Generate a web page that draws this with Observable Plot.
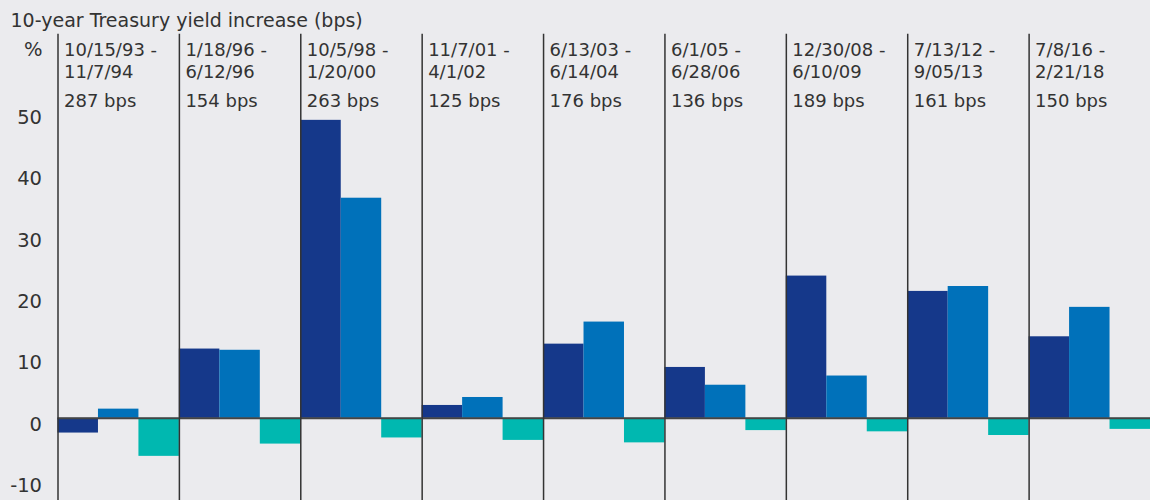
<!DOCTYPE html>
<html>
<head>
<meta charset="utf-8">
<script src="https://cdn.jsdelivr.net/npm/d3@7"></script>
<script src="https://cdn.jsdelivr.net/npm/@observablehq/plot@0.6"></script>
<style>
  html, body { margin: 0; padding: 0; background: #ffffff; }
  #chart { width: 1150px; }
</style>
</head>
<body>
<div id="chart"></div>
<script>
// ---- data ----
const periodStart = ["10/15/93 -", "1/18/96 -", "10/5/98 -", "11/7/01 -", "6/13/03 -", "6/1/05 -", "12/30/08 -", "7/13/12 -", "7/8/16 -"];
const periodEnd = ["11/7/94", "6/12/96", "1/20/00", "4/1/02", "6/14/04", "6/28/06", "6/10/09", "9/05/13", "2/21/18"];
const yieldIncrease = ["287 bps", "154 bps", "263 bps", "125 bps", "176 bps", "136 bps", "189 bps", "161 bps", "150 bps"];
const seriesNames = ["Series 1", "Series 2", "Series 3"];
const series1 = [-2.4, 11.3, 48.6, 2.1, 12.1, 8.3, 23.2, 20.7, 13.3];
const series2 = [1.5, 11.1, 35.9, 3.4, 15.7, 5.4, 6.9, 21.5, 18.1];
const series3 = [-6.2, -4.2, -3.2, -3.6, -4.0, -2.0, -2.2, -2.8, -1.8];
const yTicks = [-10, 0, 10, 20, 30, 40, 50];
const titleText = "10-year Treasury yield increase (bps)";
const unitText = "%";

// ---- build tables ----
const keys = periodStart.map((s, i) => s + " " + periodEnd[i]);
const seriesValues = [series1, series2, series3];
const rows = [];
keys.forEach((k, i) => {
  seriesNames.forEach((s, j) => rows.push({key: k, series: s, value: seriesValues[j][i]}));
});
const headers = keys.map((k, i) => ({key: k, start: periodStart[i], end: periodEnd[i], bps: yieldIncrease[i]}));
const firstFacet = [{key: keys[0]}];

const textStyle = {fontSize: 18, fill: "#333", lineAnchor: "bottom", frameAnchor: "top-left"};

const chart = Plot.plot({
  width: 1150,
  height: 500,
  marginLeft: 57.5,
  marginRight: 0,
  marginTop: 34,
  marginBottom: 0,
  style: {background: "#ebebee", fontFamily: "DejaVu Sans, sans-serif", fontSize: "18px", color: "#333"},
  fx: {domain: keys, padding: 0, round: false, axis: null, label: null},
  x: {domain: seriesNames, padding: 0, round: false, axis: null},
  y: {domain: [-13.4, 62.6]},
  color: {domain: seriesNames, range: ["#15388a", "#0071ba", "#00b8b0"]},
  marks: [
    Plot.barY(rows, {fx: "key", x: "series", y: "value", fill: "series", inset: 0}),
    Plot.ruleY([0], {stroke: "#444", strokeWidth: 2}),
    Plot.frame({anchor: "left", stroke: "#333", strokeWidth: 1.5}),
    Plot.axisY({ticks: yTicks, tickFormat: (d) => String(d), tickSize: 0, tickPadding: 16, dy: 6, label: null, fontSize: 19.5, fill: "#333"}),
    Plot.text(headers, {fx: "key", text: "start", dx: 6, dy: 21, ...textStyle}),
    Plot.text(headers, {fx: "key", text: "end", dx: 6, dy: 43.5, ...textStyle}),
    Plot.text(headers, {fx: "key", text: "bps", dx: 6, dy: 72, ...textStyle}),
    Plot.text(firstFacet, {fx: "key", text: () => titleText, dx: -47.5, dy: -7.3, textAnchor: "start", ...textStyle, fontSize: 19}),
    Plot.text(firstFacet, {fx: "key", text: () => unitText, dx: -15.5, dy: 21, textAnchor: "end", ...textStyle, fontSize: 19.5})
  ]
});
document.getElementById("chart").appendChild(chart);
</script>
</body>
</html>
